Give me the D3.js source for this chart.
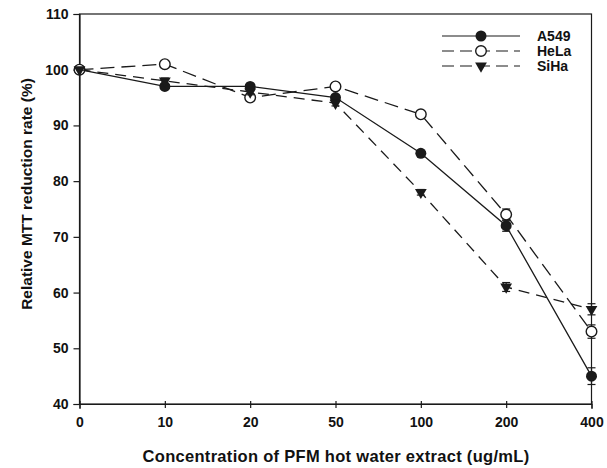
<!DOCTYPE html>
<html><head><meta charset="utf-8">
<script src="https://cdn.jsdelivr.net/npm/d3@7"></script>
<style>body{margin:0;background:#fff}svg{display:block}text{font-family:"Liberation Sans",Arial,sans-serif;font-weight:bold;fill:#111}</style>
</head><body>
<script>
const categories = ["0","10","20","50","100","200","400"];
const yTicks = [40,50,60,70,80,90,100,110];
const a549 = [100,97,97,95,85,72,45];
const hela = [100,101,95,97,92,74,53];
const siha = [100,98,96,94,78,61,57];
const a549Err = [0,0.5,0.5,0.5,0.5,1,1.5];
const helaErr = [0,0.5,0.5,0.5,0.5,1,1.2];
const sihaErr = [0,0.5,0.5,0.5,0.5,0.8,1];
const seriesNames = ["A549","HeLa","SiHa"];

const W=607,H=468;
const svg=d3.select("body").append("svg").attr("width",W).attr("height",H);
const L=79.5,R=591.5,T=14,B=404;
const x=d3.scalePoint().domain(categories).range([L,R]);
const y=d3.scaleLinear().domain([40,110]).range([B,T]);
const ink="#1a1a1a";

svg.append("rect").attr("x",L).attr("y",T).attr("width",R-L).attr("height",B-T)
  .attr("fill","none").attr("stroke",ink).attr("stroke-width",1.2);

const gx=svg.append("g").attr("transform",`translate(0,${B})`).call(d3.axisBottom(x).tickSize(5).tickPadding(8));
const gy=svg.append("g").attr("transform",`translate(${L},0)`).call(d3.axisLeft(y).tickValues(yTicks).tickSize(6).tickPadding(5));
[gx,gy].forEach(g=>{g.select(".domain").attr("stroke",ink).attr("stroke-width",1.2);
  g.selectAll(".tick line").attr("stroke",ink).attr("stroke-width",1.2);
  g.selectAll(".tick text").attr("font-size",14).attr("fill",ink).style("font-weight","bold");});
gx.selectAll(".tick line").attr("y1",-3).attr("y2",4);

svg.append("text").attr("x",336).attr("y",462).attr("text-anchor","middle").attr("font-size",16.5).attr("letter-spacing",0.3).text("Concentration of PFM hot water extract (ug/mL)");
svg.append("text").attr("transform",`translate(32,194) rotate(-90)`).attr("text-anchor","middle").attr("font-size",15.5).text("Relative MTT reduction rate (%)");

const series=[
 {name:seriesNames[0],vals:a549,err:a549Err,dash:null,marker:"fill"},
 {name:seriesNames[1],vals:hela,err:helaErr,dash:"14,7",marker:"open"},
 {name:seriesNames[2],vals:siha,err:sihaErr,dash:"11,7",marker:"tri"}];

const line=d3.line().x((d,i)=>x(categories[i])).y(d=>y(d));
function marker(g,type,cx,cy){
  if(type==="fill") g.append("circle").attr("cx",cx).attr("cy",cy).attr("r",5.5).attr("fill",ink);
  else if(type==="open") g.append("circle").attr("cx",cx).attr("cy",cy).attr("r",5.3).attr("fill","#fff").attr("stroke",ink).attr("stroke-width",1.4);
  else g.append("path").attr("d",d3.symbol(d3.symbolTriangle,60)()).attr("transform",`translate(${cx},${cy}) rotate(180)`).attr("fill",ink);
}
series.forEach(s=>{
  const g=svg.append("g");
  g.append("path").attr("d",line(s.vals)).attr("fill","none").attr("stroke",ink).attr("stroke-width",1.3).attr("stroke-dasharray",s.dash);
  s.vals.forEach((v,i)=>{
    const cx=x(categories[i]);
    if(s.err[i]>0){
      g.append("line").attr("x1",cx).attr("x2",cx).attr("y1",y(v-s.err[i])).attr("y2",y(v+s.err[i])).attr("stroke",ink).attr("stroke-width",1.2);
      [v-s.err[i],v+s.err[i]].forEach(e=>g.append("line").attr("x1",cx-4).attr("x2",cx+4).attr("y1",y(e)).attr("y2",y(e)).attr("stroke",ink).attr("stroke-width",1.2));
    }
    marker(g,s.marker,cx,y(v));
  });
});

const legY=[36,51,66];
series.forEach((s,i)=>{
  const g=svg.append("g");
  g.append("line").attr("x1",442).attr("x2",520).attr("y1",legY[i]).attr("y2",legY[i]).attr("stroke",ink).attr("stroke-width",1.2).attr("stroke-dasharray",s.dash?"12,6":null);
  marker(g,s.marker,481,legY[i]);
  g.append("text").attr("x",537).attr("y",legY[i]+5).attr("font-size",14).text(s.name);
});
</script>
</body></html>
